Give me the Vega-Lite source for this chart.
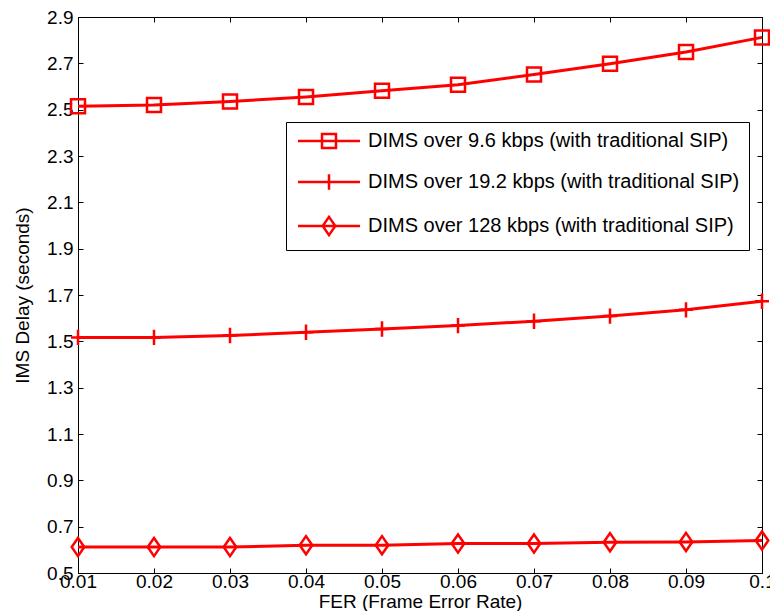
{
  "$schema": "https://vega.github.io/schema/vega-lite/v6.json",
  "width": 684,
  "height": 556,
  "autosize": {"type": "none"},
  "padding": {"left": 78, "top": 17, "right": 8, "bottom": 38},
  "background": "white",
  "config": {
    "font": "Liberation Sans",
    "view": {"stroke": "black", "strokeWidth": 1},
    "axis": {
      "grid": false,
      "domainColor": "black",
      "tickColor": "black",
      "labelColor": "black",
      "titleColor": "black",
      "labelFontSize": 19,
      "titleFontSize": 19,
      "titleFontWeight": "normal",
      "tickSize": -5,
      "labelFlush": false,
      "labelOverlap": false
    }
  },
  "data": {
    "values": [
      {"series": "DIMS over 9.6 kbps (with traditional SIP)", "fer": 0.01, "delay": 2.515},
      {"series": "DIMS over 9.6 kbps (with traditional SIP)", "fer": 0.02, "delay": 2.52},
      {"series": "DIMS over 9.6 kbps (with traditional SIP)", "fer": 0.03, "delay": 2.535},
      {"series": "DIMS over 9.6 kbps (with traditional SIP)", "fer": 0.04, "delay": 2.555},
      {"series": "DIMS over 9.6 kbps (with traditional SIP)", "fer": 0.05, "delay": 2.582},
      {"series": "DIMS over 9.6 kbps (with traditional SIP)", "fer": 0.06, "delay": 2.608},
      {"series": "DIMS over 9.6 kbps (with traditional SIP)", "fer": 0.07, "delay": 2.652},
      {"series": "DIMS over 9.6 kbps (with traditional SIP)", "fer": 0.08, "delay": 2.698},
      {"series": "DIMS over 9.6 kbps (with traditional SIP)", "fer": 0.09, "delay": 2.749},
      {"series": "DIMS over 9.6 kbps (with traditional SIP)", "fer": 0.1, "delay": 2.812},
      {"series": "DIMS over 19.2 kbps (with traditional SIP)", "fer": 0.01, "delay": 1.517},
      {"series": "DIMS over 19.2 kbps (with traditional SIP)", "fer": 0.02, "delay": 1.517},
      {"series": "DIMS over 19.2 kbps (with traditional SIP)", "fer": 0.03, "delay": 1.525},
      {"series": "DIMS over 19.2 kbps (with traditional SIP)", "fer": 0.04, "delay": 1.539},
      {"series": "DIMS over 19.2 kbps (with traditional SIP)", "fer": 0.05, "delay": 1.553},
      {"series": "DIMS over 19.2 kbps (with traditional SIP)", "fer": 0.06, "delay": 1.568},
      {"series": "DIMS over 19.2 kbps (with traditional SIP)", "fer": 0.07, "delay": 1.587},
      {"series": "DIMS over 19.2 kbps (with traditional SIP)", "fer": 0.08, "delay": 1.609},
      {"series": "DIMS over 19.2 kbps (with traditional SIP)", "fer": 0.09, "delay": 1.636},
      {"series": "DIMS over 19.2 kbps (with traditional SIP)", "fer": 0.1, "delay": 1.673},
      {"series": "DIMS over 128 kbps (with traditional SIP)", "fer": 0.01, "delay": 0.612},
      {"series": "DIMS over 128 kbps (with traditional SIP)", "fer": 0.02, "delay": 0.612},
      {"series": "DIMS over 128 kbps (with traditional SIP)", "fer": 0.03, "delay": 0.612},
      {"series": "DIMS over 128 kbps (with traditional SIP)", "fer": 0.04, "delay": 0.62},
      {"series": "DIMS over 128 kbps (with traditional SIP)", "fer": 0.05, "delay": 0.62},
      {"series": "DIMS over 128 kbps (with traditional SIP)", "fer": 0.06, "delay": 0.627},
      {"series": "DIMS over 128 kbps (with traditional SIP)", "fer": 0.07, "delay": 0.627},
      {"series": "DIMS over 128 kbps (with traditional SIP)", "fer": 0.08, "delay": 0.633},
      {"series": "DIMS over 128 kbps (with traditional SIP)", "fer": 0.09, "delay": 0.634},
      {"series": "DIMS over 128 kbps (with traditional SIP)", "fer": 0.1, "delay": 0.64}
    ]
  },
  "resolve": {"axis": {"x": "independent", "y": "independent"}, "scale": {"shape": "independent"}},
  "layer": [
    {
      "mark": {"type": "line", "color": "#ff0000", "strokeWidth": 3},
      "encoding": {
        "x": {
          "field": "fer", "type": "quantitative",
          "scale": {"domain": [0.01, 0.1], "nice": false, "zero": false},
          "axis": {"orient": "bottom", "values": [0.01, 0.02, 0.03, 0.04, 0.05, 0.06, 0.07, 0.08, 0.09, 0.1], "format": ".2~f", "labelPadding": 4, "title": "FER (Frame Error Rate)", "titlePadding": 1}
        },
        "y": {
          "field": "delay", "type": "quantitative",
          "scale": {"domain": [0.5, 2.9], "nice": false, "zero": false},
          "axis": {"orient": "left", "values": [0.5, 0.7, 0.9, 1.1, 1.3, 1.5, 1.7, 1.9, 2.1, 2.3, 2.5, 2.7, 2.9], "format": ".1f", "labelPadding": 10, "title": "IMS Delay (seconds)", "titlePadding": 14}
        },
        "detail": {"field": "series", "type": "nominal"}
      }
    },
    {
      "mark": {"type": "point", "color": "#ff0000", "filled": false, "strokeWidth": 2.5, "size": 196, "opacity": 1},
      "encoding": {
        "x": {"field": "fer", "type": "quantitative", "axis": null},
        "y": {"field": "delay", "type": "quantitative", "axis": null},
        "shape": {
          "field": "series", "type": "nominal",
          "scale": {
            "domain": ["DIMS over 9.6 kbps (with traditional SIP)", "DIMS over 19.2 kbps (with traditional SIP)", "DIMS over 128 kbps (with traditional SIP)"],
            "range": ["M-1,-1H1V1H-1Z", "M-1,0H1M0,-1.1V1.1", "M0,-1.3L0.9,0L0,1.3L-0.9,0Z"]
          },
          "legend": null
        }
      }
    },
    {
      "mark": {"type": "point", "color": "#ff0000", "filled": false, "strokeWidth": 2.5, "size": 196, "opacity": 0},
      "encoding": {
        "x": {"field": "fer", "type": "quantitative", "axis": {"orient": "top", "values": [0.01, 0.02, 0.03, 0.04, 0.05, 0.06, 0.07, 0.08, 0.09, 0.1], "labels": false, "domain": false, "title": null}},
        "y": {"field": "delay", "type": "quantitative", "axis": {"orient": "right", "values": [0.5, 0.7, 0.9, 1.1, 1.3, 1.5, 1.7, 1.9, 2.1, 2.3, 2.5, 2.7, 2.9], "labels": false, "domain": false, "title": null}},
        "shape": {
          "field": "series", "type": "nominal",
          "scale": {
            "domain": ["DIMS over 9.6 kbps (with traditional SIP)", "DIMS over 19.2 kbps (with traditional SIP)", "DIMS over 128 kbps (with traditional SIP)"],
            "range": ["M-4.43,0H4.43M-1,-1H1V1H-1Z", "M-4.43,0H4.43M0,-1.1V1.1", "M-4.43,0H4.43M0,-1.3L0.9,0L0,1.3L-0.9,0Z"]
          },
          "legend": {
            "orient": "none",
            "legendX": 208,
            "legendY": 105,
            "title": null,
            "symbolSize": 196,
            "symbolStrokeWidth": 2.5,
            "symbolStrokeColor": "#ff0000",
            "symbolFillColor": "transparent",
            "symbolOpacity": 1,
            "symbolOffset": 24,
            "labelFontSize": 20,
            "labelFont": "Liberation Sans",
            "labelColor": "black",
            "labelOffset": 29,
            "labelLimit": 600,
            "rowPadding": 16,
            "padding": 9,
            "strokeColor": "black",
            "fillColor": "white",
            "cornerRadius": 0
          }
        }
      }
    }
  ]
}
